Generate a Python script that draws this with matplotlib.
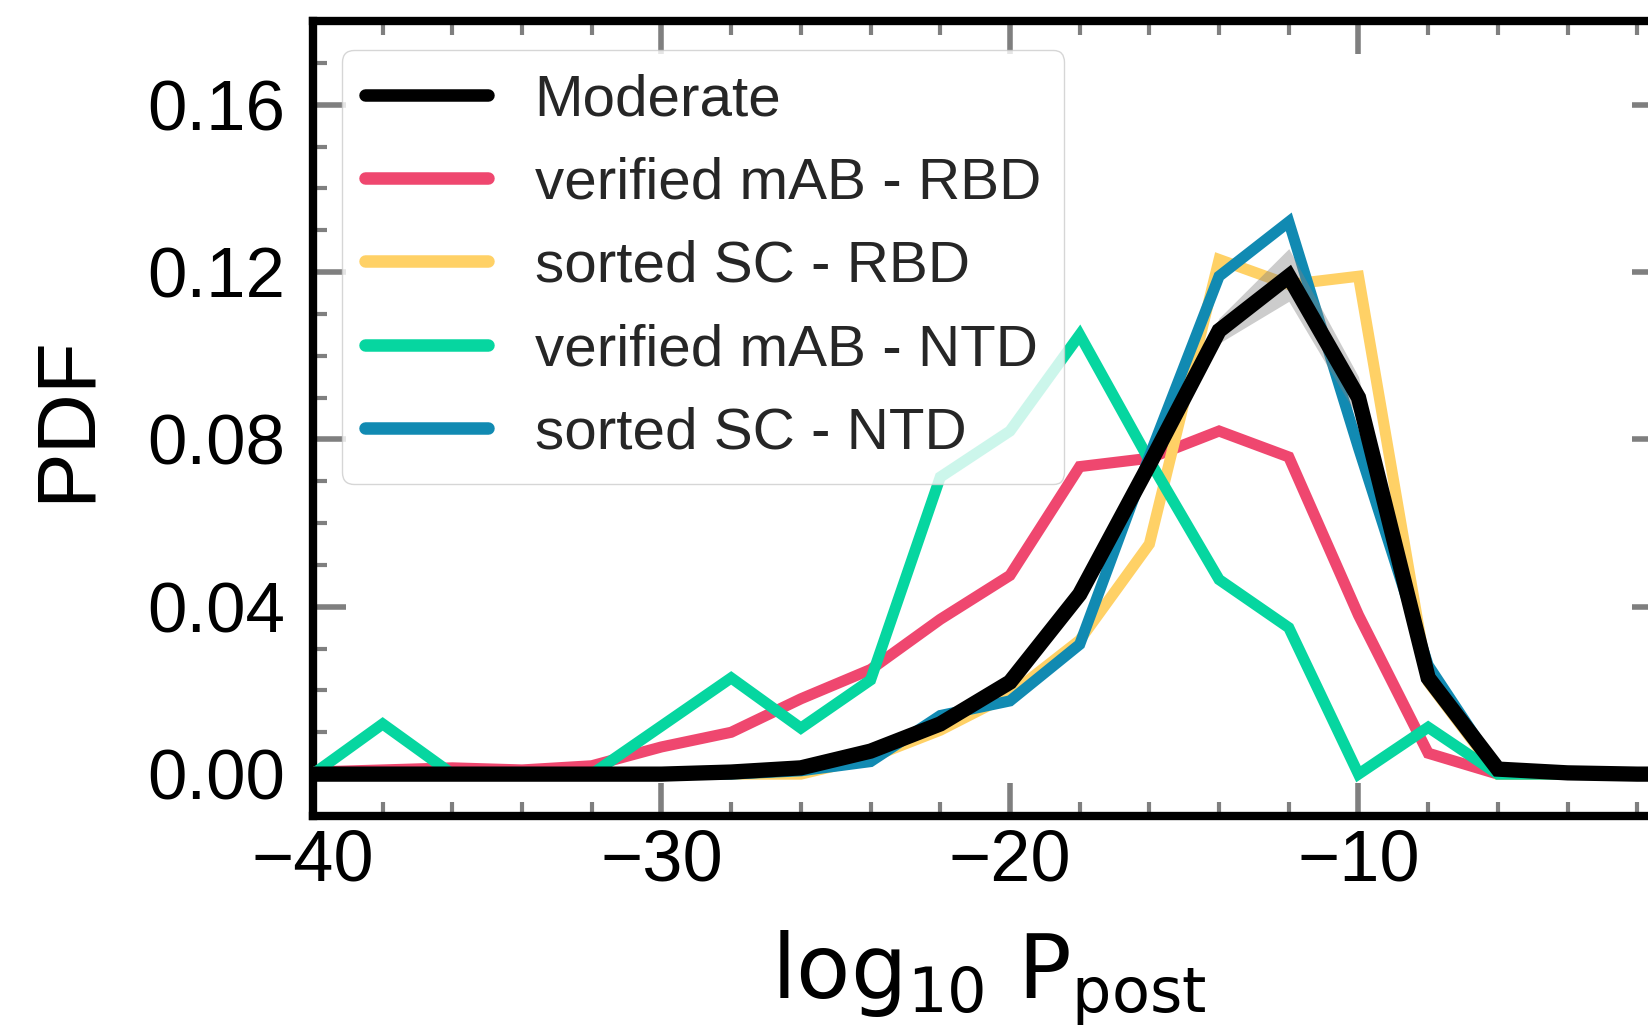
import numpy as np
import matplotlib
matplotlib.use("Agg")
import matplotlib.pyplot as plt
from matplotlib.ticker import MultipleLocator

# Bin centres of log10 P_post
log_p = [-40, -38, -36, -34, -32, -30, -28, -26, -24, -22, -20,
         -18, -16, -14, -12, -10, -8, -6, -4, -2, 0]

# Moderate (mean PDF and its spread)
moderate = [0.0, 0.0, 0.0, 0.0, 0.0, 0.0, 0.0005, 0.0015, 0.0055, 0.012, 0.022,
            0.043, 0.074, 0.106, 0.119, 0.090, 0.023, 0.0012, 0.0003, 0.0, 0.0]
moderate_lo = [0.0, 0.0, 0.0, 0.0, 0.0, 0.0, 0.0003, 0.001, 0.0045, 0.0105, 0.020,
               0.041, 0.072, 0.103, 0.113, 0.085, 0.021, 0.0008, 0.0001, 0.0, 0.0]
moderate_hi = [0.0, 0.0, 0.0, 0.0, 0.0, 0.0, 0.0008, 0.002, 0.0065, 0.0135, 0.024,
               0.045, 0.076, 0.109, 0.1256, 0.095, 0.025, 0.0016, 0.0005, 0.0, 0.0]

verified_mab_rbd = [0.0005, 0.001, 0.0015, 0.001, 0.002, 0.0065, 0.010, 0.018, 0.025, 0.037, 0.0475,
                    0.0735, 0.0755, 0.082, 0.0758, 0.038, 0.005, 0.0, 0.0, 0.0, 0.0]
sorted_sc_rbd = [0.0, 0.0, 0.0, 0.0, 0.0, 0.0, 0.0, 0.0, 0.004, 0.0105, 0.019,
                 0.032, 0.055, 0.123, 0.117, 0.119, 0.022, 0.0, 0.0, 0.0, 0.0]
verified_mab_ntd = [0.0, 0.012, 0.0, 0.0, 0.0, 0.0115, 0.023, 0.011, 0.0225, 0.071, 0.082,
                    0.105, 0.075, 0.0465, 0.035, 0.0, 0.0112, 0.0, 0.0, 0.0, 0.0]
sorted_sc_ntd = [0.0, 0.0, 0.0, 0.0, 0.0, 0.0, 0.0, 0.0008, 0.003, 0.014, 0.0175,
                 0.031, 0.076, 0.119, 0.132, 0.078, 0.026, 0.0008, 0.0, 0.0, 0.0]

series_labels = ["verified mAB - RBD", "sorted SC - RBD",
                 "verified mAB - NTD", "sorted SC - NTD"]
series_values = [verified_mab_rbd, sorted_sc_rbd, verified_mab_ntd, sorted_sc_ntd]
series_colors = ["#EF476F", "#FFD166", "#06D6A0", "#118AB2"]

fig = plt.figure(figsize=(16.49, 10.30), dpi=100)
ax = fig.add_axes([0.1898, 0.2078, 0.82, 0.7718])

ax.plot(log_p, moderate, color="black", lw=11, zorder=5,
        solid_capstyle="round", solid_joinstyle="miter", label="Moderate")
ax.fill_between(log_p, moderate_lo, moderate_hi, color="gray", alpha=0.4,
                lw=0, zorder=4)
for vals, lab, col in zip(series_values, series_labels, series_colors):
    ax.plot(log_p, vals, color=col, lw=8, label=lab, zorder=3,
            solid_joinstyle="miter")

ax.set_xlim(-40, -1.2)
ax.set_ylim(-0.01, 0.18)
ax.xaxis.set_major_locator(MultipleLocator(10))
ax.xaxis.set_minor_locator(MultipleLocator(2))
ax.yaxis.set_major_locator(MultipleLocator(0.04))
ax.yaxis.set_minor_locator(MultipleLocator(0.01))
ax.yaxis.set_major_formatter(matplotlib.ticker.FormatStrFormatter("%.2f"))

tick_font = "Liberation Sans"
ax.tick_params(which="both", direction="in", top=True, right=True,
               color="#7f7f7f")
ax.tick_params(which="major", length=24, width=4)
ax.tick_params(which="minor", length=10, width=3)
ax.tick_params(axis="x", which="major", pad=9, labelsize=52)
ax.tick_params(axis="y", which="major", pad=20, labelsize=51)
for t in ax.get_xticklabels() + ax.get_yticklabels():
    t.set_fontfamily(tick_font)

for sp in ax.spines.values():
    sp.set_linewidth(6)
    sp.set_color("black")

ax.set_xlabel(r"$\mathrm{log}_{10}$ $\mathrm{P}_{\mathrm{post}}$",
              fontsize=64, labelpad=24)
ax.set_ylabel("PDF", fontsize=60, fontfamily=tick_font, labelpad=30)

leg = ax.legend(loc="upper left", handlelength=2.1,
                handletextpad=0.8, labelspacing=0.5, borderpad=0.4,
                borderaxespad=0.5, prop={"family": tick_font, "size": 42})
for txt in leg.get_texts():
    txt.set_color("#262626")
for h in leg.get_lines():
    h.set_linewidth(9)
    h.set_solid_capstyle("round")

fig.savefig("out.png", dpi=100)
